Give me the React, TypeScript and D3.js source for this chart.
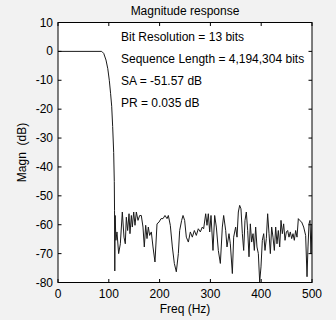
import React from "react";
import * as d3 from "d3";

const freqHz = [
  0, 86, 90, 94.5, 98, 101, 103.5, 105.7, 107.6, 109.6, 110.8, 111.3, 111.8,
  112.5, 114, 116.1, 119.4, 122.7, 126.6, 129.9, 132.5, 134.5, 137.1, 139.8, 141.7, 144.4, 146.3,
  149, 151.6, 154.2, 157.5, 160.8, 164, 167.3, 169.9, 172.6, 175.2, 177.8, 180.4, 183.7, 187,
  190.9, 194.9, 198.8, 202.8, 206.7, 210.6, 214.6, 217.2, 221.1, 225.1, 229, 232.9, 236.9, 239.5,
  243.4, 246.1, 249.3, 252.6, 256.6, 260.5, 264.4, 268.4, 272.3, 276.2, 280.2, 284.1, 286.7, 290.7,
  293.3, 295.9, 298.6, 301.2, 305.1, 308.4, 311.7, 315.6, 319.6, 323.5, 326.1, 330.1, 332.7, 336.6,
  339.2, 343.2, 345.8, 349.7, 352.4, 355, 357.6, 360.2, 362.9, 365.5, 368.1, 370.7, 373.4, 376,
  378.6, 381.2, 383.9, 386.5, 389.1, 391.7, 394.4, 397, 399.6, 402.2, 404.9, 407.5, 410.1, 412.7,
  415.4, 418, 420.6, 423.2, 425.9, 428.5, 431.1, 433.7, 436.4, 439, 441.6, 444.2, 446.9, 449.5,
  452.1, 454.7, 457.3, 460, 462.6, 465.2, 467.8, 470.5, 473.1, 475.7, 479.7, 483.6, 487.5, 490.2,
  492.1, 494.1, 496.1, 498, 500,
];

const magnDb = [
  0, 0, -0.7, -3, -6, -10, -14.5, -19, -26, -35, -45, -55, -76,
  -56.8, -65.4, -62.5, -70, -66.6, -55.6, -64.3, -66.6, -57.4, -62, -56.2, -63.1, -56.8, -60.8,
  -55.6, -60.2, -55.6, -58.5, -56.8, -56.8, -60.8, -67.7, -60.2, -64.8, -60.8, -63.7, -62.5, -67.7,
  -72.9, -59.7, -59.1, -57.9, -57.9, -56.8, -57.9, -56.8, -60.2, -67.7, -73.4, -76.3, -70, -62,
  -58.5, -56.8, -58.5, -64.3, -66, -62.5, -64.3, -62, -63.7, -61.4, -62.5, -60.8, -61.4, -56.2,
  -60.2, -56.2, -62.5, -56.8, -68.9, -56.8, -60.8, -68.9, -73.4, -60.8, -56.8, -62, -67.7, -63.1,
  -66.6, -76.9, -64.3, -60.8, -64.3, -55.6, -53.3, -54.5, -63.1, -68.9, -58.5, -55.6, -62, -71.1,
  -59.7, -66, -63.1, -68.9, -60.8, -67.7, -70, -79.8, -74.6, -65.4, -63.1, -68.9, -64.8, -56.2,
  -63.1, -70, -60.8, -64.3, -68.9, -60.8, -66.6, -62, -67.7, -58.5, -63.1, -59.7, -65.4, -62.5,
  -62, -64.3, -62.5, -64.8, -63.1, -65.4, -62, -64.3, -57.9, -58.5, -59.1, -60.8, -63.7, -78,
  -67.7, -59.7, -58.5, -70, -59.7,
];

const xTicks = [0, 100, 200, 300, 400, 500];
const yTicks = [10, 0, -10, -20, -30, -40, -50, -60, -70, -80];
const titleText = "Magnitude response";
const xLabel = "Freq (Hz)";
const yLabel = "Magn  (dB)";
const notes = [
  "Bit Resolution = 13 bits",
  "Sequence Length = 4,194,304 bits",
  "SA = -51.57 dB",
  "PR = 0.035 dB",
];

export default function App() {
  const W = 336, H = 320;
  const L = 58, R = 312, T = 22.5, B = 282.5;
  const x = d3.scaleLinear().domain([0, 500]).range([L, R]);
  const y = d3.scaleLinear().domain([-80, 10]).range([B, T]);
  const pts: [number, number][] = freqHz.map((f, i) => [f, magnDb[i]]);
  const line = d3
    .line<[number, number]>()
    .x((d) => x(d[0]))
    .y((d) => y(d[1]));
  const font = "'Liberation Sans', Arial, sans-serif";
  const tl = 3.5;
  const fs = 12;
  return (
    <svg
      width={W}
      height={H}
      style={{ position: "absolute", left: 0, top: 0 }}
      fontFamily={font}
    >
      <rect x={0} y={0} width={W} height={H} fill="#f2f2f2" />
      <rect x={L} y={T} width={R - L} height={B - T} fill="#ffffff" />
      <defs>
        <clipPath id="pc">
          <rect x={L} y={T} width={R - L} height={B - T} />
        </clipPath>
      </defs>
      <path
        d={line(pts) || ""}
        fill="none"
        stroke="#1a1a1a"
        strokeWidth={1}
        clipPath="url(#pc)"
      />
      <rect x={L} y={T} width={R - L} height={B - T} fill="none" stroke="#000" strokeWidth={1} />
      {xTicks.map((t) => (
        <g key={"x" + t}>
          <line x1={x(t)} x2={x(t)} y1={B} y2={B - tl} stroke="#000" />
          <line x1={x(t)} x2={x(t)} y1={T} y2={T + tl} stroke="#000" />
          <text x={x(t)} y={298} fontSize={fs} textAnchor="middle" fill="#000">
            {t}
          </text>
        </g>
      ))}
      {yTicks.map((t) => (
        <g key={"y" + t}>
          <line x1={L} x2={L + tl} y1={y(t)} y2={y(t)} stroke="#000" />
          <line x1={R} x2={R - tl} y1={y(t)} y2={y(t)} stroke="#000" />
          <text x={53} y={y(t) + 4} fontSize={fs} textAnchor="end" fill="#000">
            {t}
          </text>
        </g>
      ))}
      <text x={(L + R) / 2} y={15} fontSize={fs} textAnchor="middle" fill="#000">
        {titleText}
      </text>
      <text x={(L + R) / 2} y={313} fontSize={fs} textAnchor="middle" fill="#000">
        {xLabel}
      </text>
      <text
        transform={`translate(26, ${(T + B) / 2}) rotate(-90)`}
        fontSize={fs}
        textAnchor="middle"
        fill="#000"
        style={{ whiteSpace: "pre" }}
      >
        {yLabel}
      </text>
      {notes.map((n, i) => (
        <text key={n} x={121} y={41 + i * 22} fontSize={fs} fill="#000">
          {n}
        </text>
      ))}
    </svg>
  );
}
